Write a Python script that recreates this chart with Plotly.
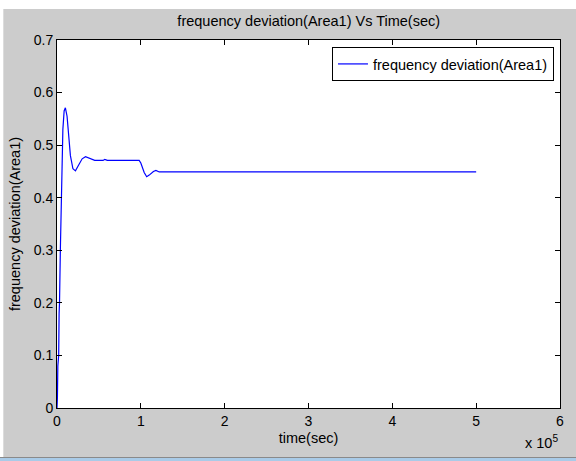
import plotly.graph_objects as go

# time in seconds, frequency deviation values
time_sec = [0, 500, 1000, 1500, 2000, 2500, 3000, 4000, 5000, 6000, 7000, 8500,
            10000, 12000, 14000, 16000, 19000, 22000, 25000, 30000, 34000, 40000,
            45000, 55000, 57000, 60000, 98000, 100000, 104000, 107000, 110000,
            115000, 118000, 122000, 500000]
freq_dev = [0, 0.02, 0.08, 0.09, 0.1, 0.18, 0.2, 0.3, 0.4, 0.48, 0.53, 0.565,
            0.571, 0.555, 0.52, 0.48, 0.455, 0.451, 0.46, 0.474, 0.478, 0.474,
            0.471, 0.471, 0.473, 0.471, 0.471, 0.466, 0.448, 0.440, 0.443,
            0.450, 0.452, 0.449, 0.449]

x_tick_vals = [0, 100000, 200000, 300000, 400000, 500000, 600000]
x_tick_text = ["0", "1", "2", "3", "4", "5", "6"]
y_tick_vals = [0, 0.1, 0.2, 0.3, 0.4, 0.5, 0.6, 0.7]
y_tick_text = ["0", "0.1", "0.2", "0.3", "0.4", "0.5", "0.6", "0.7"]

FONT = "Liberation Sans, Arial, sans-serif"
FS = 14.5

fig = go.Figure()
fig.add_trace(go.Scatter(x=time_sec, y=freq_dev, mode="lines",
                         line=dict(color="#0000ff", width=1.2),
                         name="frequency deviation(Area1)"))

axis_common = dict(showline=True, linecolor="black", linewidth=1, mirror="ticks",
                   ticks="inside", ticklen=5, tickcolor="black", showgrid=False,
                   zeroline=False, tickfont=dict(family=FONT, size=14, color="black"))

fig.update_layout(
    width=576, height=461,
    margin=dict(l=57, r=13, t=40, b=53),
    paper_bgcolor="#cccccc", plot_bgcolor="white",
    font=dict(family=FONT, size=FS, color="black"),
    title=dict(text="frequency deviation(Area1) Vs Time(sec)", x=0.536, xanchor="center",
               y=1 - 21 / 461, yanchor="middle", font=dict(family=FONT, size=FS)),
    xaxis=dict(range=[0, 600000], tickvals=x_tick_vals, ticktext=x_tick_text,
               title=dict(text="time(sec)", font=dict(family=FONT, size=FS), standoff=5),
               **axis_common),
    yaxis=dict(range=[0, 0.7], tickvals=y_tick_vals, ticktext=y_tick_text,
               title=dict(text="frequency deviation(Area1)", font=dict(family=FONT, size=FS), standoff=9),
               **axis_common),
    showlegend=True,
    legend=dict(x=0.988, y=0.981, xanchor="right", yanchor="top",
                bgcolor="white", bordercolor="black", borderwidth=1,
                font=dict(family=FONT, size=FS), tracegroupgap=0, itemwidth=30),
    shapes=[
        dict(type="rect", xref="paper", yref="paper", x0=-0.2, x1=1.2, y0=(408 - 9) / 368, y1=1.2,
             fillcolor="white", line=dict(width=0), layer="below"),
        dict(type="rect", xref="paper", yref="paper", x0=-0.2, x1=(3 - 57) / 506, y0=-0.3, y1=1.2,
             fillcolor="white", line=dict(width=0), layer="below"),
        dict(type="rect", xref="paper", yref="paper", x0=-0.2, x1=1.2, y0=-0.3, y1=(408 - 458) / 368,
             fillcolor="#a9cbe8", line=dict(width=0), layer="below"),
        dict(type="line", xref="paper", yref="paper", x0=-0.2, x1=1.2, y0=(408 - 457.5) / 368,
             y1=(408 - 457.5) / 368, line=dict(color="#8a8a8a", width=1), layer="below"),
    ],
    annotations=[
        dict(text="x 10<sup>5</sup>", xref="paper", yref="paper", x=(563 - 57) / 506,
             y=(408 - 442) / 368, xanchor="right", yanchor="middle", showarrow=False,
             font=dict(family=FONT, size=FS)),
    ],
)

fig.write_html("out.html")
